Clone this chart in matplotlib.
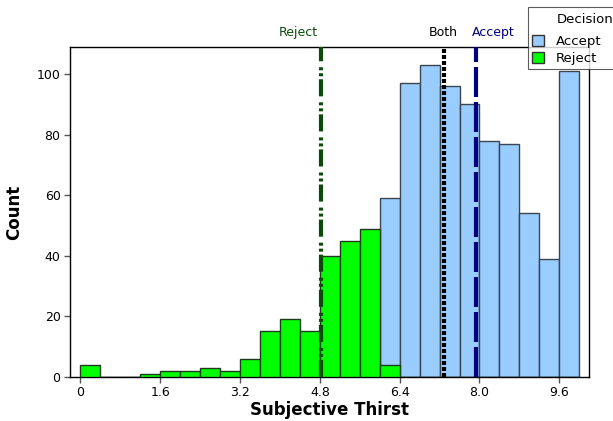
import numpy as np
import matplotlib
matplotlib.use('agg')
from matplotlib import pyplot as plt
from matplotlib.patches import Patch

# histogram bins (width 0.4) from 0 to 10
binStart = 0.0
binWidth = 0.4
acceptCounts = [0, 0, 0, 0, 0, 0, 0, 0, 0, 0, 0, 0, 0, 0, 0,
                59, 97, 103, 96, 90, 78, 77, 54, 39, 101]
rejectCounts = [4, 0, 0, 1, 2, 2, 3, 2, 6, 15, 19, 15, 40, 45, 49,
                4, 0, 0, 0, 0, 0, 0, 0, 0, 0]

# reference lines
refLines = [('Reject', 4.82), ('Both', 7.28), ('Accept', 7.93)]

xTicks = [0, 1.6, 3.2, 4.8, 6.4, 8.0, 9.6]
xTickLabels = ['0', '1.6', '3.2', '4.8', '6.4', '8.0', '9.6']
yTicks = [0, 20, 40, 60, 80, 100]

acceptColor = '#99ccff'
rejectColor = '#00ff00'

plt.rcParams['font.family'] = 'DejaVu Sans'

fig = plt.figure(figsize=(6.13, 4.21), dpi=100)
ax = fig.add_axes([0.1147, 0.1052, 0.8466, 0.7824])

lefts = binStart + binWidth * np.arange(len(acceptCounts))
ax.bar(lefts, acceptCounts, width=binWidth, align='edge', color=acceptColor,
       edgecolor='#3a4550', linewidth=1.0, zorder=2)
ax.bar(lefts, rejectCounts, width=binWidth, align='edge', color=rejectColor,
       edgecolor='#1e3a1e', linewidth=1.0, zorder=3)

styles = {
    'Reject': dict(color='#0b4a0b', dashes=(4.1, 0.72, 0.72, 0.72, 0.72, 1.44), ha='right', dx=-0.06),
    'Both': dict(color='black', dashes=(0.96, 0.48), ha='center', dx=0.0),
    'Accept': dict(color='#000080', dashes=(7.2, 1.2), ha='left', dx=-0.08),
}
for name, xv in refLines:
    st = styles[name]
    ax.axvline(xv, color=st['color'], linewidth=3.0, dashes=st['dashes'], zorder=4)
    ax.text(xv + st['dx'], 111.5, name, color=st['color'], ha=st['ha'], va='bottom',
            fontsize=9)

ax.set_xlim(-0.2, 10.2)
ax.set_ylim(0, 108.9)
ax.set_xticks(xTicks)
ax.set_xticklabels(xTickLabels)
ax.set_yticks(yTicks)
ax.tick_params(axis='both', direction='out', length=4, width=1, labelsize=9,
               color='#555555', pad=3)
for sp in ax.spines.values():
    sp.set_linewidth(1.0)
    sp.set_color('black')

ax.set_xlabel('Subjective Thirst', fontsize=12, fontweight='bold', labelpad=1)
ax.set_ylabel('Count', fontsize=12, fontweight='bold', labelpad=10)

# legend sticks out past the right edge like the original
handles = [Patch(facecolor=acceptColor, edgecolor='#333333', label='Accept'),
           Patch(facecolor=rejectColor, edgecolor='#333333', label='Reject')]
leg = fig.legend(handles=handles, loc='upper left', bbox_to_anchor=(0.861, 0.983),
                 title=' ' * 16, fontsize=9.5, title_fontsize=14, frameon=True,
                 fancybox=False, edgecolor='#333333', borderpad=0.3,
                 handlelength=0.9, handleheight=0.9, handletextpad=0.9,
                 labelspacing=0.35, borderaxespad=0, alignment='left')
leg.get_frame().set_linewidth(0.8)
fig.text(0.9086, 0.9525, 'Decision', fontsize=9.5, ha='left', va='center', zorder=10)

fig.savefig('out.png', dpi=100)
